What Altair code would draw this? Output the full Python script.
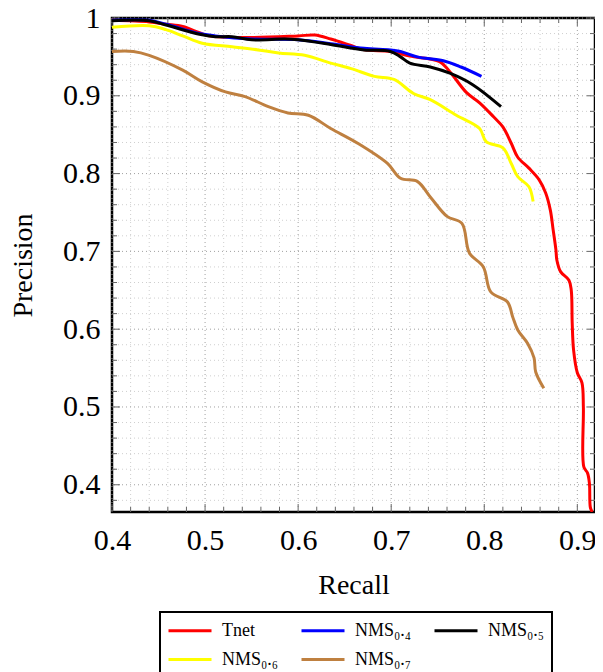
import altair as alt
import pandas as pd

series_names = ["Tnet", "NMS₀.₄", "NMS₀.₅", "NMS₀.₆", "NMS₀.₇"]
series_colors = ["#ff0000", "#0000ff", "#000000", "#ffff00", "#bf8040"]
# legend is filled column by column, so this order gives rows
# "Tnet, NMS0.4, NMS0.5" and "NMS0.6, NMS0.7"
legend_order = [0, 3, 1, 4, 2]

tnet_recall = [0.400, 0.440, 0.458, 0.476, 0.494, 0.504, 0.547, 0.600, 0.618, 0.635,
               0.656, 0.671, 0.699, 0.720, 0.752, 0.763, 0.781, 0.795, 0.810, 0.820,
               0.829, 0.836, 0.848, 0.859, 0.866, 0.871, 0.874, 0.877, 0.878, 0.882,
               0.891, 0.8935, 0.8945, 0.896, 0.900, 0.905, 0.9065, 0.9070, 0.911, 0.913,
               0.914, 0.916]
tnet_precision = [0.997, 0.995, 0.992, 0.989, 0.981, 0.977, 0.975, 0.977, 0.978, 0.973,
                  0.965, 0.959, 0.957, 0.951, 0.944, 0.931, 0.904, 0.891, 0.873, 0.860,
                  0.839, 0.821, 0.807, 0.792, 0.775, 0.753, 0.728, 0.702, 0.689, 0.674,
                  0.663, 0.650, 0.608, 0.573, 0.544, 0.531, 0.500, 0.423, 0.415, 0.402,
                  0.371, 0.365]

nms04_recall = [0.400, 0.440, 0.458, 0.494, 0.511, 0.550, 0.600, 0.635, 0.671, 0.699,
                0.710, 0.728, 0.756, 0.775, 0.797]
nms04_precision = [0.997, 0.997, 0.992, 0.980, 0.977, 0.973, 0.972, 0.967, 0.961, 0.959,
                   0.957, 0.950, 0.945, 0.937, 0.925]

nms05_recall = [0.400, 0.440, 0.458, 0.494, 0.511, 0.529, 0.550, 0.586, 0.600, 0.635,
                0.671, 0.699, 0.710, 0.720, 0.742, 0.763, 0.788, 0.818]
nms05_precision = [0.9965, 0.9965, 0.991, 0.979, 0.976, 0.976, 0.972, 0.973, 0.972, 0.966,
                   0.959, 0.957, 0.950, 0.942, 0.937, 0.929, 0.914, 0.886]

nms06_recall = [0.400, 0.440, 0.458, 0.476, 0.497, 0.529, 0.557, 0.579, 0.607, 0.635,
                0.657, 0.682, 0.703, 0.724, 0.742, 0.770, 0.795, 0.802, 0.820, 0.829,
                0.836, 0.848, 0.8525]
nms06_precision = [0.988, 0.990, 0.985, 0.977, 0.9675, 0.963, 0.959, 0.955, 0.952, 0.942,
                   0.935, 0.925, 0.921, 0.903, 0.895, 0.875, 0.858, 0.841, 0.833, 0.813,
                   0.796, 0.783, 0.764]

nms07_recall = [0.400, 0.423, 0.440, 0.476, 0.497, 0.522, 0.543, 0.568, 0.589, 0.611,
                0.635, 0.664, 0.696, 0.710, 0.728, 0.742, 0.760, 0.776, 0.784, 0.799,
                0.807, 0.825, 0.8305, 0.836, 0.8465, 0.8535, 0.8553, 0.864]
nms07_precision = [0.957, 0.957, 0.952, 0.933, 0.918, 0.905, 0.899, 0.886, 0.878, 0.875,
                   0.858, 0.839, 0.813, 0.794, 0.790, 0.770, 0.745, 0.736, 0.698, 0.680,
                   0.648, 0.635, 0.616, 0.599, 0.582, 0.563, 0.545, 0.524]

x_major = [0.4, 0.5, 0.6, 0.7, 0.8, 0.9]
x_minor = [0.42, 0.44, 0.46, 0.48, 0.52, 0.54, 0.56, 0.58, 0.62, 0.64, 0.66, 0.68,
           0.72, 0.74, 0.76, 0.78, 0.82, 0.84, 0.86, 0.88]
y_major = [0.4, 0.5, 0.6, 0.7, 0.8, 0.9, 1.0]
y_minor = [0.38, 0.42, 0.44, 0.46, 0.48, 0.52, 0.54, 0.56, 0.58, 0.62, 0.64, 0.66, 0.68,
           0.72, 0.74, 0.76, 0.78, 0.82, 0.84, 0.86, 0.88, 0.92, 0.94, 0.96, 0.98]

all_r = [tnet_recall, nms04_recall, nms05_recall, nms06_recall, nms07_recall]
all_p = [tnet_precision, nms04_precision, nms05_precision, nms06_precision, nms07_precision]
rows = []
for name, rs, ps in zip(series_names, all_r, all_p):
    for i, (r, p) in enumerate(zip(rs, ps)):
        rows.append({"series": name, "recall": r, "precision": p, "idx": i})
df = pd.DataFrame(rows)

W, H = 483, 494
xs = alt.Scale(domain=[0.4, 0.919], nice=False, zero=False)
ys = alt.Scale(domain=[0.365, 1.0], nice=False, zero=False)

SERIF = "Liberation Serif"

x_axis = alt.Axis(values=x_major, format="~g", title="Recall", titlePadding=16,
                  labelFlush=False, labelPadding=13)
y_axis = alt.Axis(values=y_major, format="~g", title="Precision", titlePadding=25,
                  labelFlush=False, labelPadding=12)

def X():
    return alt.X("recall:Q", scale=xs, axis=x_axis)

def Y():
    return alt.Y("precision:Q", scale=ys, axis=y_axis)

def xgrid(vals, color):
    return alt.Chart(pd.DataFrame({"recall": vals})).mark_rule(
        color=color, strokeWidth=1, strokeDash=[1, 3]
    ).encode(x=X())

def ygrid(vals, color):
    return alt.Chart(pd.DataFrame({"precision": vals})).mark_rule(
        color=color, strokeWidth=1, strokeDash=[1, 3]
    ).encode(y=Y())

def xticks(vals, length):
    d = pd.DataFrame({"recall": vals})
    bottom = alt.Chart(d).mark_rule(color="#666", strokeWidth=1).encode(
        x=X(), y=alt.value(H), y2=alt.value(H - length))
    top = alt.Chart(d).mark_rule(color="#666", strokeWidth=1).encode(
        x=X(), y=alt.value(0), y2=alt.value(length))
    return [bottom, top]

def yticks(vals, length):
    d = pd.DataFrame({"precision": vals})
    left = alt.Chart(d).mark_rule(color="#666", strokeWidth=1).encode(
        y=Y(), x=alt.value(0), x2=alt.value(length))
    right = alt.Chart(d).mark_rule(color="#666", strokeWidth=1).encode(
        y=Y(), x=alt.value(W), x2=alt.value(W - length))
    return [left, right]

lines = alt.Chart(df).mark_line(strokeWidth=3, interpolate="catmull-rom", clip=True).encode(
    x=X(),
    y=Y(),
    color=alt.Color("series:N",
                    scale=alt.Scale(domain=[series_names[i] for i in legend_order],
                                    range=[series_colors[i] for i in legend_order]),
                    legend=alt.Legend(title=None, orient="none", legendX=48, legendY=594,
                                      columns=3, symbolType="M-1,0H3.3", symbolSize=400,
                                      symbolStrokeWidth=3, labelFont=SERIF, labelFontSize=18,
                                      labelColor="black", strokeColor="black",
                                      padding=7, columnPadding=16, rowPadding=8,
                                      labelOffset=32)),
    order="idx:Q",
)

layers = [xgrid(x_minor, "#cfcfcf"), ygrid(y_minor, "#cfcfcf"),
          xgrid(x_major, "#a0a0a0"), ygrid(y_major, "#a0a0a0")]
layers += xticks(x_minor, 5) + xticks(x_major, 8) + yticks(y_minor, 5) + yticks(y_major, 8)
layers.append(lines)

chart = alt.layer(*layers).properties(
    width=W, height=H,
    autosize=alt.AutoSizeParams(type="none"),
    padding={"left": 104, "top": 10, "right": 0, "bottom": 160},
).configure_view(stroke="black", strokeWidth=2.5).configure_axis(
    labelFont=SERIF, labelFontSize=30, labelColor="black",
    titleFont=SERIF, titleFontSize=28, titleFontWeight="normal", titleColor="black",
    ticks=False, domain=False, grid=False
).configure_legend(strokeWidth=2)

chart.save("out.html", embed_options={"renderer": "svg", "actions": False})
